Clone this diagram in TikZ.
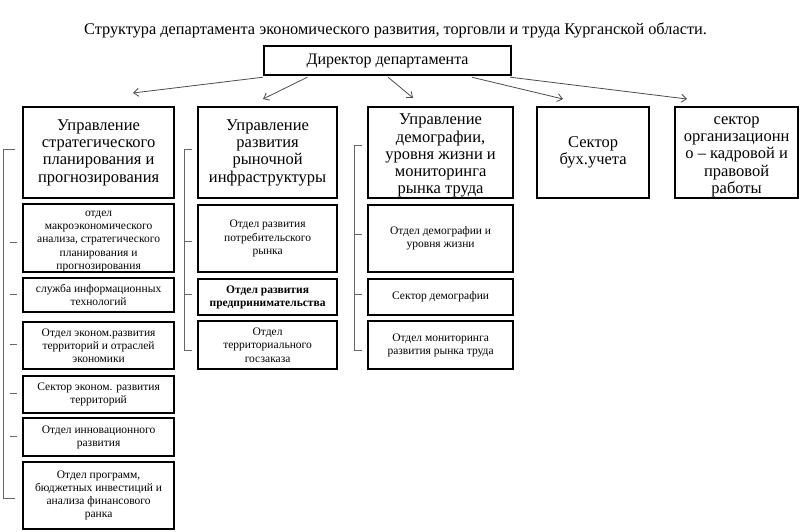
\documentclass[tikz,border=0pt]{standalone}
\usepackage{fontspec}
\setmainfont{Liberation Serif}
\usetikzlibrary{arrows.meta,calc}
\begin{document}
\begin{tikzpicture}[x=1pt,y=-1pt,
  box/.style={draw, line width=2.2pt, inner sep=0pt, align=center, anchor=north west},
  wh/.style 2 args={minimum width=#1, minimum height=#2},
  head/.style={font=\fontsize{16.5}{17.3}\selectfont},
  sub/.style={font=\fontsize{11.5}{13.2}\selectfont},
  link/.style={draw=black!70, line width=0.8pt, -{Straight Barb[length=5pt,width=8pt]}},
  brk/.style={draw=black!60, line width=0.8pt}]
\useasboundingbox (0,0) rectangle (800,531);
\node[font=\fontsize{16.3}{18}\selectfont] (title) at (395.5,30) {Структура департамента экономического развития, торговли и труда Курганской области.};
\node[box, wh={247}{29}, font=\fontsize{16}{18}\selectfont] (dir) at (263,45) {Директор департамента};
% column headers
\node[box, head, wh={151}{91}] (h1) at (22,106) {Управление\\стратегического\\планирования и\\прогнозирования};
\node[box, head, wh={139}{91}] (h2) at (197,106) {Управление\\развития\\рыночной\\инфраструктуры};
\node[box, head, wh={145}{91}] (h3) at (367,106) {\rule{0pt}{17pt}Управление\\демографии,\\уровня жизни и\\мониторинга\\рынка труда};
\node[box, head, wh={112}{91}] (h4) at (536,106) {Сектор\\бух.учета};
\node[box, head, wh={123}{91}] (h5) at (674,106) {\rule{0pt}{16pt}сектор\\организационн\\о – кадровой и\\правовой\\работы};
% column 1
\node[box, sub, wh={151}{68}] (s11) at (22,203) {\rule{0pt}{12pt}отдел\\макроэкономического\\анализа, стратегического\\планирования и\\прогнозирования};
\node[box, sub, wh={151}{34}] (s12) at (22,277) {служба информационных\\технологий};
\node[box, sub, wh={151}{47}] (s13) at (22,321) {Отдел эконом.развития\\территорий и отраслей\\экономики};
\node[box, sub, wh={151}{37}] (s14) at (22,375) {Сектор эконом. развития\\территорий};
\node[box, sub, wh={151}{38}] (s15) at (22,417) {Отдел инновационного\\развития};
\node[box, sub, wh={151}{67}] (s16) at (22,461) {Отдел программ,\\бюджетных инвестиций и\\анализа финансового\\ранка};
% column 2
\node[box, sub, wh={139}{67}] (s21) at (197,204) {Отдел развития\\потребительского\\рынка};
\node[box, sub, wh={139}{36}, font=\fontsize{11.5}{13.2}\selectfont\bfseries] (s22) at (197,278) {Отдел развития\\предпринимательства};
\node[box, sub, wh={139}{48}] (s23) at (197,320) {Отдел\\территориального\\госзаказа};
% column 3
\node[box, sub, wh={145}{67}] (s31) at (367,204) {Отдел демографии и\\уровня жизни};
\node[box, sub, wh={145}{36}] (s32) at (367,278) {Сектор демографии};
\node[box, sub, wh={145}{48}] (s33) at (367,320) {Отдел мониторинга\\развития рынка труда};
% arrows
\coordinate (e1) at (133,93);
\coordinate (e2) at (263,99);
\coordinate (e3) at (413,98);
\coordinate (e4) at (563,99);
\coordinate (e5) at (687,99);
\draw[link] ($(dir.south west)+(0,1)$) -- (e1);
\draw[link] ($(dir.south west)!0.178!(dir.south east)+(0,1)$) -- (e2);
\draw[link] ($(dir.south west)!0.502!(dir.south east)+(0,1)$) -- (e3);
\draw[link] ($(dir.south west)!0.838!(dir.south east)+(0,1)$) -- (e4);
\draw[link] ($(dir.south east)+(-2,1)$) -- (e5);
% brackets
\draw[brk] (15,149) -- (3.5,149) -- (3.5,498) -- (15,498);
\foreach \y in {242,294,344,393,436} \draw[brk] (10,\y) -- (17,\y);
\draw[brk] (192,149) -- (184,149) -- (184,350) -- (192,350);
\foreach \y in {241,294} \draw[brk] (184,\y) -- (192,\y);
\draw[brk] (362,145) -- (354,145) -- (354,350) -- (362,350);
\foreach \y in {234,294} \draw[brk] (354,\y) -- (362,\y);
\end{tikzpicture}
\end{document}
